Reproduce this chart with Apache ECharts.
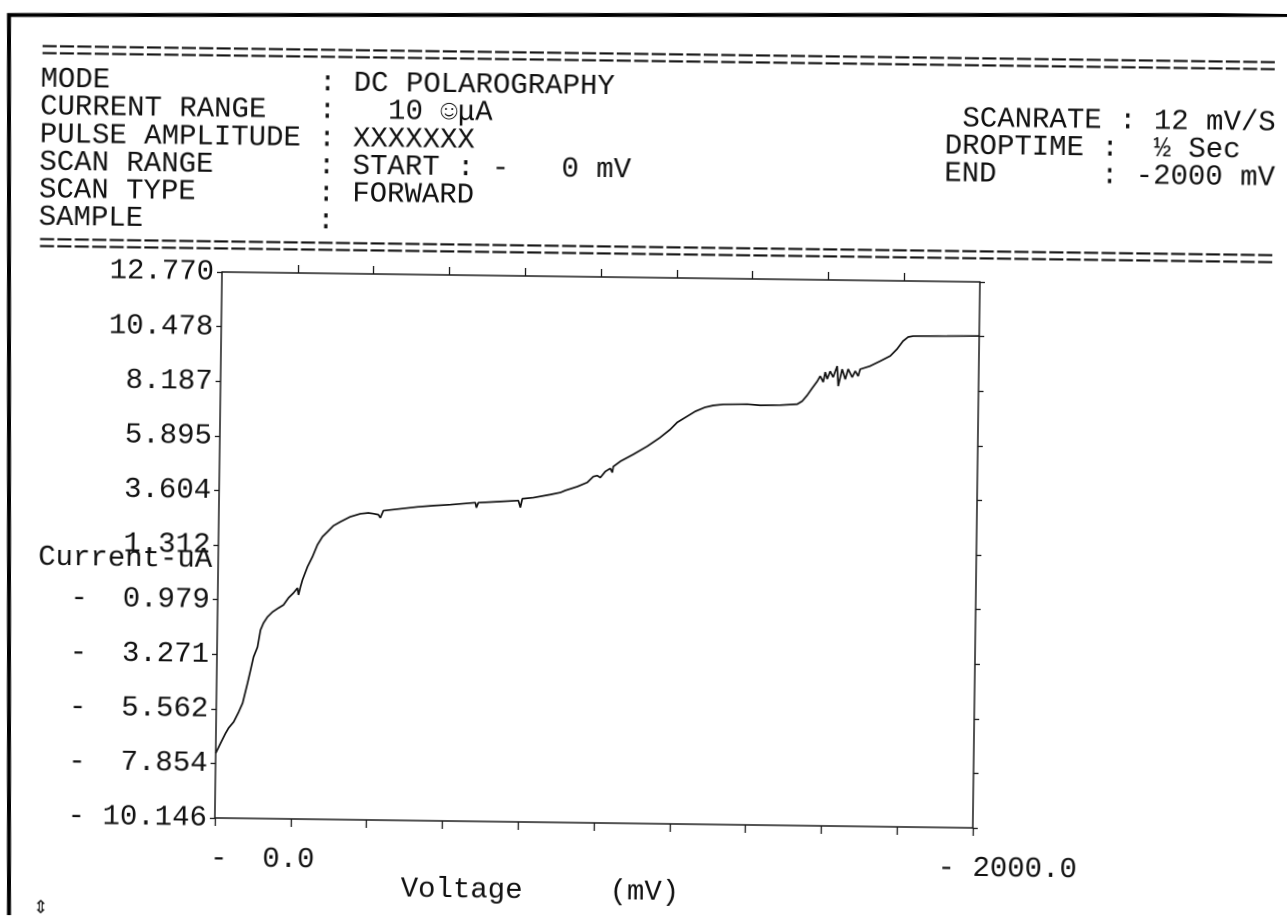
<!DOCTYPE html>
<html>
<head>
<meta charset="utf-8">
<script src="https://cdn.jsdelivr.net/npm/echarts@6/dist/echarts.min.js"></script>
<style>
html,body{margin:0;padding:0;background:#fff;overflow:hidden;}
#chart{position:absolute;left:0;top:0;width:1287px;height:918px;transform:rotate(0.75deg);transform-origin:222px 272px;}
</style>
</head>
<body>
<div id="chart"></div>
<script>
// ---- data ----
const VOLTAGE_MV = [
  0, -12.7, -25.5, -33.3, -46.2, -59.1, -69.3, -81.7, -89.1, -96.5, -106.7, -114.0,
  -121.6, -131.9, -144.9, -160.6, -173.7, -186.6, -199.6, -210.0, -212.9, -217.9, -222.9,
  -235.6, -248.3, -261.2, -273.9, -287.0, -302.6, -320.9, -347.1, -373.3, -394.5, -407.7,
  -420.9, -426.3, -433.9, -478.7, -523.5, -565.7, -610.5, -676.4, -679.2, -684.3, -742.3,
  -789.8, -795.3, -800.2, -829.2, -874.0, -900.3, -913.4, -944.9, -971.1, -986.7, -997.2, -1005.3,
  -1018.2, -1031.3, -1036.7, -1039.1, -1057.4, -1091.4, -1128.0, -1162.0, -1188.0, -1206.3,
  -1232.4, -1253.4, -1279.6, -1300.6, -1327.0, -1390.4, -1424.6, -1477.4, -1522.3, -1535.4,
  -1548.3, -1561.2, -1574.2, -1581.8,
  -1590.0, -1595.0, -1600.4, -1608.0, -1616.0, -1626.3, -1629.7, -1639.6, -1648.0, -1655.4,
  -1666.2, -1674.1, -1682.0, -1687.0, -1713.4, -1739.6, -1765.7, -1783.9, -1799.5, -1812.6,
  -1825.6, -1915.3, -2000
];
const CURRENT_UA = [
  -7.43, -7.00, -6.58, -6.36, -6.11, -5.69, -5.31, -4.46, -3.92, -3.37, -2.95, -2.23,
  -1.94, -1.68, -1.47, -1.30, -1.17, -0.87, -0.66, -0.45, -0.74, -0.40, -0.11,
  0.44, 0.86, 1.37, 1.71, 1.92, 2.18, 2.35, 2.57, 2.70, 2.74, 2.71,
  2.67, 2.54, 2.84, 2.93, 3.02, 3.08, 3.13, 3.23, 3.02, 3.23, 3.29,
  3.34, 3.05, 3.42, 3.47, 3.61, 3.70, 3.79, 3.96, 4.14, 4.39, 4.43, 4.35,
  4.61, 4.74, 4.57, 4.82, 5.04, 5.34, 5.69, 6.07, 6.41, 6.71,
  6.97, 7.18, 7.36, 7.44, 7.49, 7.51, 7.47, 7.49, 7.54, 7.67,
  7.92, 8.22, 8.51, 8.73,
  8.48, 8.90, 8.61, 8.94, 8.69, 9.16, 8.32, 9.03, 8.61, 9.04,
  8.70, 8.96, 8.75, 9.04, 9.18, 9.39, 9.61, 9.91, 10.25, 10.42,
  10.46, 10.48, 10.50
];

const Y_MIN = -10.146;
const Y_MAX = 12.770;
const Y_STEP = 2.2916;
const Y_TICK_VALUES = [-10.146, -7.854, -5.562, -3.271, -0.979, 1.312, 3.604, 5.895, 8.187, 10.478, 12.770];
const Y_TICK_LABELS = ['- 10.146', '-  7.854', '-  5.562', '-  3.271', '-  0.979', '1.312', '3.604', '5.895', '8.187', '10.478', '12.770'];

const X_MIN = -2000;
const X_MAX = 0;
const X_STEP = 200;
const X_TICK_VALUES = [0, -2000];
const X_TICK_LABELS = ['-  0.0', '- 2000.0'];

const HEADER_LEFT = [
  '='.repeat(71),
  'MODE            : DC POLAROGRAPHY',
  'CURRENT RANGE   :   10 \u263AμA',
  'PULSE AMPLITUDE : XXXXXXX',
  'SCAN RANGE      : START : -   0 mV',
  'SCAN TYPE       : FORWARD',
  'SAMPLE          :',
  '='.repeat(71)
];
const HEADER_RIGHT = [
  ' SCANRATE : 12 mV/S',
  'DROPTIME :  ½ Sec',
  'END      : -2000 mV'
];

// ---- page geometry helpers ----
const MONO = '"Liberation Mono", "Courier New", monospace';
const INK = '#111';
const ROT = 0.75 * Math.PI / 180;   // scan is slightly rotated
const PIVOT = [222, 272];
function screenToCanvas(X, Y) {
  const c = Math.cos(ROT), s = Math.sin(ROT);
  const dx = X - PIVOT[0], dy = Y - PIVOT[1];
  return [PIVOT[0] + c * dx + s * dy, PIVOT[1] - s * dx + c * dy];
}

const chart = echarts.init(document.getElementById('chart'), null, { renderer: 'canvas', devicePixelRatio: 2 });

const axisLine = { show: true, onZero: false, lineStyle: { color: '#1a1a1a', width: 1.5 } };
const tickStyle = { color: '#1a1a1a', width: 1.3 };

function yLabel(v) {
  let best = 0, bd = Infinity;
  for (let i = 0; i < Y_TICK_VALUES.length; i++) {
    const d = Math.abs(Y_TICK_VALUES[i] - v);
    if (d < bd) { bd = d; best = i; }
  }
  return Y_TICK_LABELS[best];
}
function xLabel(v) {
  for (let i = 0; i < X_TICK_VALUES.length; i++) {
    if (Math.abs(v - X_TICK_VALUES[i]) < 1e-6) return '{t' + i + '|' + X_TICK_LABELS[i] + '}';
  }
  return '';
}

const option = {
  animation: false,
  backgroundColor: '#fff',
  grid: { left: 222, top: 272, right: 307, bottom: 100, containLabel: false, outerBoundsMode: 'none' },
  xAxis: [
    {
      type: 'value', position: 'bottom', min: X_MIN, max: X_MAX, interval: X_STEP, inverse: true,
      axisLine: axisLine,
      axisTick: { show: true, inside: false, length: 8, lineStyle: tickStyle },
      splitLine: { show: false },
      axisLabel: {
        show: true, margin: 26, formatter: xLabel, color: INK,
        fontFamily: MONO, fontSize: 29, lineHeight: 29,
        rich: {
          t0: { fontFamily: MONO, fontSize: 29, lineHeight: 29, color: INK, padding: [0, 0, 0, 96] },
          t1: { fontFamily: MONO, fontSize: 29, lineHeight: 29, color: INK, padding: [0, 0, 0, 70] }
        }
      },
      name: 'Voltage     (mV)', nameLocation: 'middle', nameGap: 54, nameMoveOverlap: false,
      nameTextStyle: { fontFamily: MONO, fontSize: 29, lineHeight: 29, color: INK, padding: [0, 106, 0, 0], verticalAlign: 'top' }
    },
    {
      type: 'value', position: 'top', min: X_MIN, max: X_MAX, interval: X_STEP, inverse: true,
      axisLine: axisLine,
      axisTick: { show: true, inside: false, length: 8, lineStyle: tickStyle,
                  customValues: [-1800, -1600, -1400, -1200, -1000, -800, -600, -400, -200] },
      splitLine: { show: false },
      axisLabel: { show: false }
    }
  ],
  yAxis: [
    {
      type: 'value', position: 'left', min: Y_MIN, max: Y_MAX, interval: Y_STEP,
      axisLine: axisLine,
      axisTick: { show: true, inside: false, length: 5, lineStyle: tickStyle },
      splitLine: { show: false },
      axisLabel: { show: true, margin: 8, formatter: yLabel, color: INK, fontFamily: MONO, fontSize: 29, align: 'right' },
      name: 'Current-uA', nameLocation: 'middle', nameGap: 6, nameRotate: 0, nameMoveOverlap: false,
      nameTextStyle: { fontFamily: MONO, fontSize: 29, lineHeight: 29, color: INK, align: 'right', verticalAlign: 'top' }
    },
    {
      type: 'value', position: 'right', min: Y_MIN, max: Y_MAX, interval: Y_STEP,
      axisLine: axisLine,
      axisTick: { show: true, inside: false, length: 5, lineStyle: tickStyle },
      splitLine: { show: false },
      axisLabel: { show: false }
    }
  ],
  series: [
    {
      type: 'line', xAxisIndex: 0, yAxisIndex: 0,
      data: VOLTAGE_MV.map((v, i) => [v, CURRENT_UA[i]]),
      showSymbol: false, symbol: 'none', smooth: false,
      lineStyle: { color: '#111', width: 1.7 },
      silent: true
    }
  ],
  graphic: [
    {
      type: 'polyline', silent: true,
      shape: { points: [screenToCanvas(9, 930), screenToCanvas(9, 15), screenToCanvas(1300, 15)] },
      style: { stroke: '#000', lineWidth: 4, fill: null }
    },
    {
      type: 'text', x: 38, y: 40, silent: true,
      style: { text: HEADER_LEFT.join('\n'), fontFamily: MONO, fontSize: 29, lineHeight: 27.6, fill: INK, align: 'left', verticalAlign: 'top' }
    },
    {
      type: 'text', x: 943, y: 95, silent: true,
      style: { text: HEADER_RIGHT.join('\n'), fontFamily: MONO, fontSize: 29, lineHeight: 27.6, fill: INK, align: 'left', verticalAlign: 'top' }
    },
    {
      type: 'text', x: 49, y: 911, silent: true,
      style: { text: '\u21D5', fontFamily: '"DejaVu Sans"', fontSize: 18, fill: INK, align: 'center', verticalAlign: 'middle' }
    }
  ]
};
chart.setOption(option);
</script>
</body>
</html>
